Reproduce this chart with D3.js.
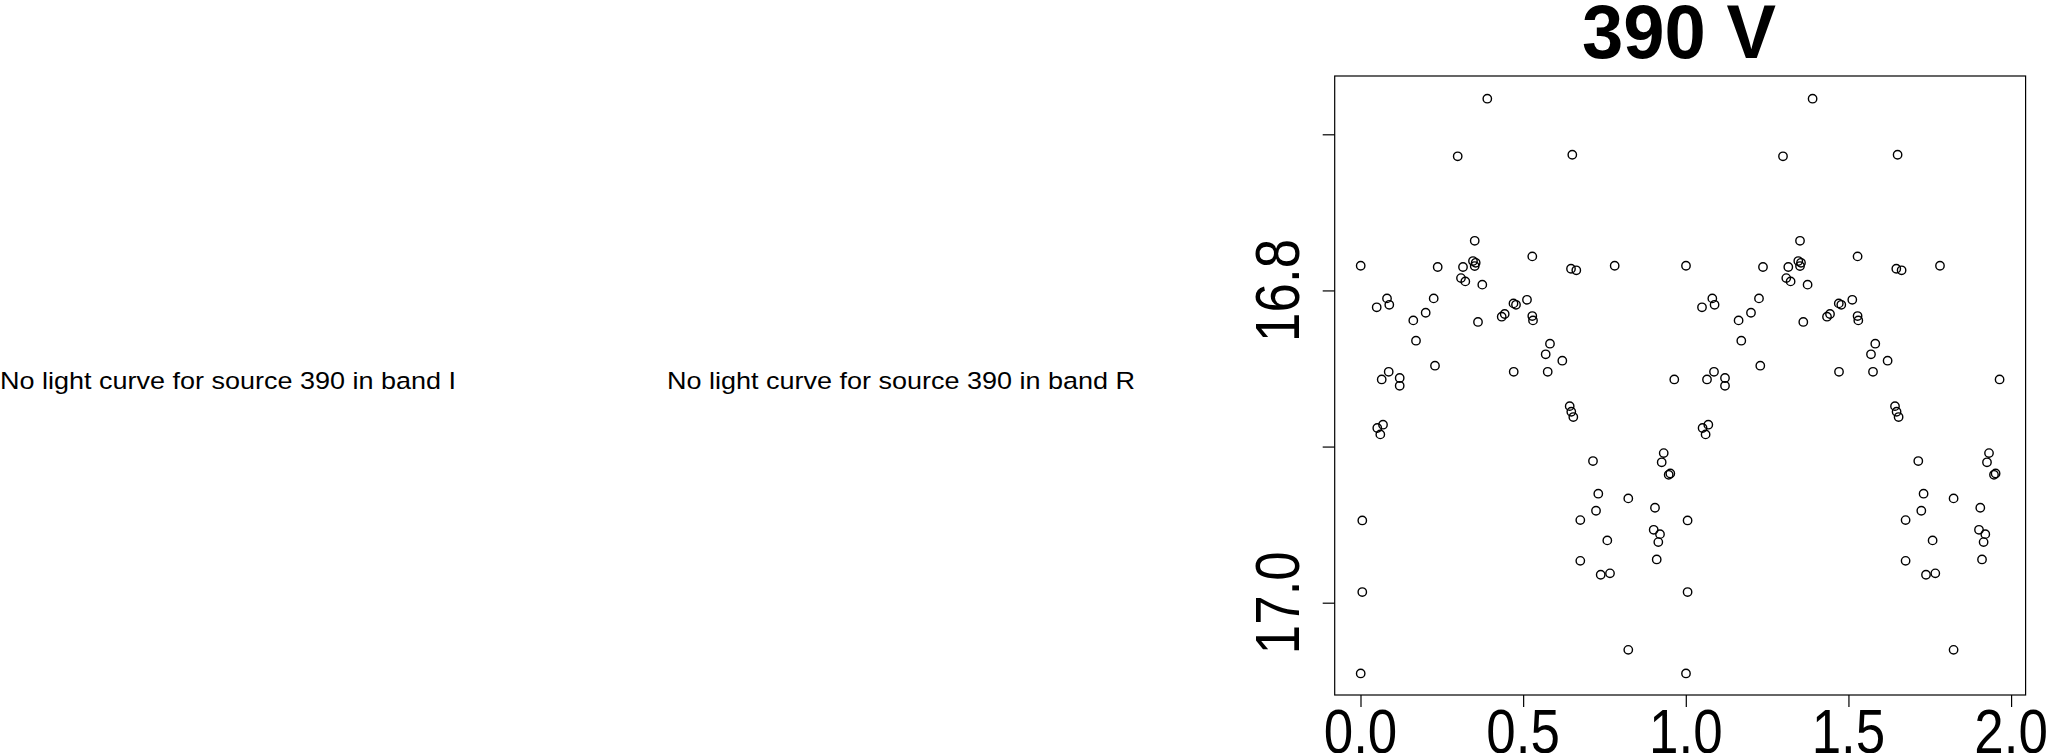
<!DOCTYPE html>
<html>
<head>
<meta charset="utf-8">
<script src="https://cdn.jsdelivr.net/npm/d3@7"></script>
<style>
  html, body { margin: 0; padding: 0; background: #fff; }
  svg { display: block; }
  text { font-family: "Liberation Sans", Arial, Helvetica, sans-serif; fill: #000; }
</style>
</head>
<body>
<svg id="chart" width="2051" height="753"></svg>
<script>
// ---- Data (phase-folded light curve, source 390, band V) ----
const phase = [
  0.3898, 0.2988, 0.3511, 0.0006, 0.2373, 0.3151, 0.3458, 0.3541, 0.3511, 0.3089,
  0.3222, 0.3744, 0.0815, 0.0498, 0.0885, 0.2250, 0.2004, 0.1623, 0.3612, 0.4341,
  0.4433, 0.4703, 0.4780, 0.1706, 0.2290, 0.0867, 0.0652, 0.1205, 0.1205, 0.4710,
  0.6511, 0.5281, 0.6471, 0.6634, 0.7814, 0.5118, 0.5281, 0.5303, 0.5825, 0.5693,
  0.6204, 0.5755, 0.9646, 0.0516, 0.0692, 0.0609, 0.0055, 0.0055, 0.0006, 0.6431,
  0.6480, 0.6542, 0.7147, 0.9321, 0.9259, 0.9474, 0.9524, 0.7310, 0.8232, 0.7240,
  0.6757, 0.9053, 0.9013, 0.9207, 0.9155, 0.7587, 0.6757, 0.9106, 0.7384, 0.7670,
  0.8232
];
const mag = [
  16.6772, 16.7141, 16.7682, 16.7842, 16.7850, 16.7850, 16.7812, 16.7823, 16.7844, 16.7921,
  16.7942, 16.7963, 16.8051, 16.8108, 16.8092, 16.8051, 16.8143, 16.8192, 16.8202, 16.8168,
  16.8151, 16.8083, 16.8092, 16.8322, 16.8482, 16.8521, 16.8570, 16.8561, 16.8611, 16.8521,
  16.7131, 16.7782, 16.7861, 16.7871, 16.7842, 16.8060, 16.8164, 16.8192, 16.8341, 16.8409,
  16.8450, 16.8521, 16.8570, 16.8881, 16.8860, 16.8922, 16.9473, 16.9932, 17.0453, 16.8741,
  16.8777, 16.8811, 16.9093, 16.9042, 16.9101, 16.9181, 16.9172, 16.9302, 16.9332, 16.9411,
  16.9471, 16.9392, 16.9533, 16.9561, 16.9612, 16.9601, 16.9732, 16.9723, 16.9821, 16.9812,
  17.0302
];
const cycles = [0, 1];   // the folded curve is shown over two cycles
const xTickValues = [0, 0.5, 1, 1.5, 2];
const xTickLabels = ["0.0", "0.5", "1.0", "1.5", "2.0"];
const yTickValues = [16.7, 16.8, 16.9, 17.0];
const yTickLabels = ["", "16.8", "", "17.0"];
const titleText = "390 V";
const emptyNotes = ["No light curve for source 390 in band I", "No light curve for source 390 in band R"];

// ---- Layout ----
const svg = d3.select("#chart");
const box = { left: 1334.7, right: 2025.6, top: 76, bottom: 695 };
const x = d3.scaleLinear().domain([-0.0793, 2.0446]).range([box.left, box.right]);
const y = d3.scaleLinear().domain([16.66266, 17.05912]).range([box.top, box.bottom]);

function squeeze(sel, factor) {
  sel.each(function () {
    const len = this.getComputedTextLength();
    d3.select(this).attr("textLength", len * factor).attr("lengthAdjust", "spacingAndGlyphs");
  });
}

// empty panel notes
const notePos = [{ x: 0, w: 456 }, { x: 667, w: 468 }];
svg.selectAll("text.note").data(emptyNotes).join("text")
  .attr("class", "note")
  .attr("x", (d, i) => notePos[i].x)
  .attr("y", 389)
  .attr("font-size", 24.5)
  .attr("textLength", (d, i) => notePos[i].w)
  .attr("lengthAdjust", "spacingAndGlyphs")
  .text(d => d);

// title
svg.append("text")
  .attr("x", 1679).attr("y", 57.5)
  .attr("text-anchor", "middle")
  .attr("font-size", 76).attr("font-weight", "bold")
  .attr("textLength", 194).attr("lengthAdjust", "spacingAndGlyphs")
  .text(titleText);

// axes (tick marks)
const gx = svg.append("g").attr("transform", `translate(0,${box.bottom})`)
  .call(d3.axisBottom(x).tickValues(xTickValues).tickSize(12).tickFormat(""));
const gy = svg.append("g").attr("transform", `translate(${box.left},0)`)
  .call(d3.axisLeft(y).tickValues(yTickValues).tickSize(12).tickFormat(""));
[gx, gy].forEach(g => {
  g.select(".domain").remove();
  g.selectAll("line").attr("stroke", "#000").attr("stroke-width", 1.2);
});

// tick labels
svg.selectAll("text.xlab").data(xTickValues).join("text")
  .attr("class", "xlab")
  .attr("x", d => x(d)).attr("y", 753)
  .attr("text-anchor", "middle")
  .attr("font-size", 63)
  .text((d, i) => xTickLabels[i])
  .call(squeeze, 0.84);

svg.selectAll("text.ylab").data(yTickValues.filter((d, i) => yTickLabels[i] !== "")).join("text")
  .attr("class", "ylab")
  .attr("transform", d => `translate(1298.5,${y(d)}) rotate(-90)`)
  .attr("text-anchor", "middle")
  .attr("font-size", 63)
  .text(d => yTickLabels[yTickValues.indexOf(d)])
  .call(squeeze, 0.84);

// plot frame
svg.append("rect")
  .attr("x", box.left).attr("y", box.top)
  .attr("width", box.right - box.left).attr("height", box.bottom - box.top)
  .attr("fill", "none").attr("stroke", "#000").attr("stroke-width", 1.2);

// points
const pts = [];
cycles.forEach(c => phase.forEach((p, i) => pts.push({ p: p + c, m: mag[i] })));
svg.append("g").selectAll("circle").data(pts).join("circle")
  .attr("cx", d => x(d.p))
  .attr("cy", d => y(d.m))
  .attr("r", 4.2)
  .attr("fill", "none")
  .attr("stroke", "#000")
  .attr("stroke-width", 1.4);
</script>
</body>
</html>
